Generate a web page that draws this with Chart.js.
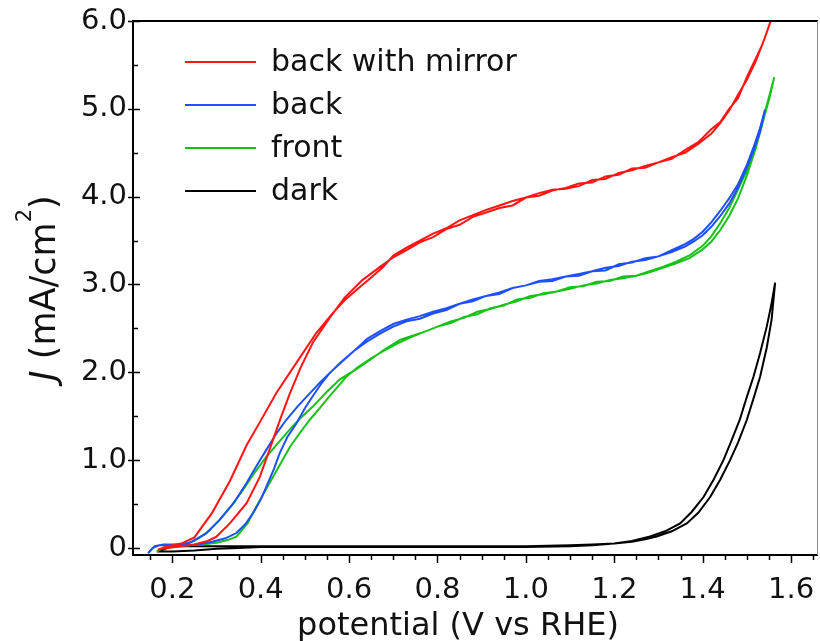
<!DOCTYPE html>
<html lang="en">
<head>
<meta charset="UTF-8">
<title>J vs potential</title>
<script src="https://cdn.jsdelivr.net/npm/chart.js"></script>
<style>
  html, body { margin: 0; padding: 0; background: #fff; }
  #chart { display: block; }
</style>
</head>
<body>
<canvas id="chart" width="820" height="641"></canvas>
<script>
// legend names and line colours
const seriesNames = ['back with mirror', 'back', 'front', 'dark'];
const seriesColors = ['#ff1414', '#1f50ff', '#16c216', '#000000'];

// back with mirror - anodic sweep then return sweep
const mirrorUpV = [0.167, 0.19, 0.22, 0.25, 0.28, 0.30, 0.33, 0.368, 0.398, 0.42, 0.443, 0.466, 0.49, 0.518, 0.556, 0.59, 0.63, 0.67, 0.70, 0.73, 0.76, 0.79, 0.82, 0.85, 0.88, 0.91, 0.94, 0.97, 1.00, 1.03, 1.06, 1.09, 1.12, 1.15, 1.18, 1.21, 1.24, 1.27, 1.30, 1.33, 1.36, 1.39, 1.42, 1.44, 1.46, 1.48, 1.50, 1.52, 1.535, 1.55, 1.556];
const mirrorUpJ = [-0.02, 0.00, 0.02, 0.04, 0.08, 0.13, 0.28, 0.51, 0.81, 1.12, 1.45, 1.76, 2.05, 2.34, 2.62, 2.85, 3.05, 3.20, 3.31, 3.39, 3.48, 3.54, 3.63, 3.68, 3.77, 3.82, 3.87, 3.90, 3.99, 4.01, 4.07, 4.10, 4.15, 4.16, 4.23, 4.25, 4.32, 4.33, 4.39, 4.43, 4.53, 4.62, 4.77, 4.85, 5.00, 5.12, 5.36, 5.57, 5.73, 5.94, 6.03];
const mirrorDownV = [1.556, 1.54, 1.52, 1.50, 1.48, 1.46, 1.44, 1.42, 1.39, 1.36, 1.33, 1.30, 1.27, 1.24, 1.21, 1.18, 1.15, 1.12, 1.09, 1.06, 1.03, 1.00, 0.97, 0.94, 0.91, 0.88, 0.85, 0.82, 0.79, 0.76, 0.73, 0.70, 0.677, 0.65, 0.617, 0.59, 0.564, 0.526, 0.481, 0.436, 0.40, 0.368, 0.33, 0.29, 0.25, 0.22, 0.19, 0.167];
const mirrorDownJ = [6.03, 5.80, 5.54, 5.33, 5.16, 4.98, 4.84, 4.72, 4.60, 4.50, 4.45, 4.39, 4.35, 4.30, 4.27, 4.20, 4.19, 4.12, 4.09, 4.08, 4.04, 3.99, 3.95, 3.90, 3.85, 3.79, 3.73, 3.64, 3.58, 3.50, 3.42, 3.33, 3.20, 3.08, 2.94, 2.82, 2.68, 2.45, 2.11, 1.77, 1.45, 1.17, 0.76, 0.40, 0.12, 0.05, 0.02, -0.02];

// back
const backUpV = [0.145, 0.155, 0.17, 0.20, 0.23, 0.26, 0.29, 0.32, 0.345, 0.365, 0.383, 0.40, 0.413, 0.43, 0.443, 0.46, 0.481, 0.50, 0.518, 0.537, 0.556, 0.58, 0.61, 0.64, 0.67, 0.70, 0.73, 0.76, 0.79, 0.82, 0.85, 0.88, 0.91, 0.94, 0.97, 1.00, 1.03, 1.06, 1.09, 1.12, 1.15, 1.18, 1.21, 1.24, 1.27, 1.30, 1.33, 1.36, 1.38, 1.40, 1.42, 1.44, 1.46, 1.48, 1.50, 1.515, 1.53, 1.541];
const backUpJ = [-0.06, 0.00, 0.03, 0.03, 0.03, 0.04, 0.07, 0.11, 0.17, 0.27, 0.40, 0.55, 0.70, 0.90, 1.08, 1.26, 1.42, 1.59, 1.73, 1.87, 1.99, 2.11, 2.24, 2.35, 2.44, 2.52, 2.58, 2.61, 2.67, 2.71, 2.78, 2.81, 2.87, 2.89, 2.96, 2.99, 3.03, 3.04, 3.09, 3.10, 3.15, 3.16, 3.23, 3.25, 3.30, 3.32, 3.39, 3.46, 3.52, 3.60, 3.71, 3.84, 3.98, 4.14, 4.36, 4.56, 4.78, 4.99];
const backDownV = [1.541, 1.53, 1.515, 1.50, 1.48, 1.46, 1.44, 1.42, 1.40, 1.38, 1.36, 1.33, 1.30, 1.27, 1.24, 1.21, 1.18, 1.15, 1.12, 1.09, 1.06, 1.03, 1.00, 0.97, 0.94, 0.91, 0.88, 0.85, 0.82, 0.79, 0.76, 0.73, 0.70, 0.67, 0.64, 0.617, 0.59, 0.564, 0.537, 0.511, 0.485, 0.458, 0.435, 0.413, 0.39, 0.368, 0.34, 0.307, 0.275, 0.24, 0.21, 0.18, 0.16, 0.145];
const backDownJ = [4.99, 4.74, 4.52, 4.33, 4.10, 3.92, 3.78, 3.66, 3.56, 3.49, 3.43, 3.37, 3.32, 3.28, 3.26, 3.21, 3.19, 3.15, 3.12, 3.09, 3.06, 3.04, 2.99, 2.96, 2.91, 2.87, 2.83, 2.78, 2.73, 2.69, 2.64, 2.60, 2.55, 2.47, 2.38, 2.27, 2.15, 2.03, 1.90, 1.76, 1.62, 1.46, 1.30, 1.12, 0.93, 0.74, 0.52, 0.32, 0.16, 0.06, 0.04, 0.04, 0.02, -0.06];

// front
const frontUpV = [0.165, 0.18, 0.21, 0.24, 0.27, 0.30, 0.325, 0.345, 0.37, 0.39, 0.41, 0.428, 0.447, 0.466, 0.49, 0.511, 0.535, 0.556, 0.575, 0.594, 0.62, 0.65, 0.68, 0.71, 0.74, 0.77, 0.80, 0.83, 0.86, 0.89, 0.92, 0.95, 0.98, 1.01, 1.04, 1.07, 1.10, 1.13, 1.16, 1.19, 1.22, 1.25, 1.28, 1.31, 1.34, 1.37, 1.40, 1.42, 1.44, 1.46, 1.48, 1.50, 1.52, 1.54, 1.552, 1.562];
const frontUpJ = [-0.04, 0.00, 0.02, 0.03, 0.04, 0.06, 0.09, 0.13, 0.28, 0.47, 0.65, 0.81, 0.98, 1.15, 1.32, 1.46, 1.60, 1.73, 1.84, 1.95, 2.06, 2.16, 2.25, 2.33, 2.40, 2.46, 2.52, 2.56, 2.63, 2.66, 2.73, 2.76, 2.83, 2.85, 2.90, 2.92, 2.97, 2.98, 3.03, 3.04, 3.09, 3.10, 3.15, 3.20, 3.26, 3.33, 3.44, 3.55, 3.70, 3.87, 4.08, 4.30, 4.60, 4.95, 5.17, 5.36];
const frontDownV = [1.562, 1.552, 1.54, 1.52, 1.50, 1.48, 1.46, 1.44, 1.42, 1.40, 1.37, 1.34, 1.31, 1.28, 1.25, 1.22, 1.19, 1.16, 1.13, 1.10, 1.07, 1.04, 1.01, 0.98, 0.95, 0.92, 0.89, 0.86, 0.83, 0.80, 0.77, 0.74, 0.715, 0.68, 0.647, 0.615, 0.579, 0.548, 0.518, 0.49, 0.466, 0.44, 0.413, 0.385, 0.36, 0.335, 0.307, 0.28, 0.25, 0.22, 0.19, 0.165];
const frontDownJ = [5.36, 5.14, 4.92, 4.55, 4.24, 3.98, 3.78, 3.62, 3.49, 3.40, 3.30, 3.24, 3.19, 3.14, 3.10, 3.07, 3.05, 3.01, 2.99, 2.95, 2.92, 2.89, 2.87, 2.81, 2.77, 2.72, 2.69, 2.62, 2.58, 2.52, 2.46, 2.41, 2.37, 2.26, 2.14, 2.03, 1.92, 1.77, 1.61, 1.48, 1.35, 1.20, 1.04, 0.85, 0.66, 0.49, 0.32, 0.18, 0.08, 0.04, 0.03, -0.04];

// dark
const darkUpV = [0.165, 0.20, 0.25, 0.30, 0.35, 0.40, 0.50, 0.60, 0.70, 0.80, 0.90, 1.00, 1.10, 1.15, 1.20, 1.24, 1.27, 1.296, 1.33, 1.364, 1.39, 1.417, 1.44, 1.462, 1.48, 1.50, 1.515, 1.53, 1.545, 1.556, 1.564];
const darkUpJ = [-0.04, -0.04, -0.03, -0.01, 0.00, 0.01, 0.01, 0.01, 0.01, 0.01, 0.01, 0.01, 0.02, 0.03, 0.05, 0.07, 0.10, 0.13, 0.19, 0.28, 0.40, 0.58, 0.78, 1.00, 1.20, 1.46, 1.70, 1.95, 2.28, 2.60, 3.02];
const darkDownV = [1.564, 1.555, 1.545, 1.53, 1.515, 1.50, 1.484, 1.465, 1.447, 1.425, 1.402, 1.375, 1.349, 1.315, 1.281, 1.24, 1.20, 1.15, 1.10, 1.00, 0.90, 0.80, 0.70, 0.60, 0.50, 0.40, 0.30, 0.25, 0.20, 0.165];
const darkDownJ = [3.02, 2.76, 2.52, 2.22, 1.95, 1.72, 1.46, 1.22, 1.00, 0.78, 0.58, 0.41, 0.28, 0.19, 0.13, 0.08, 0.05, 0.04, 0.03, 0.02, 0.02, 0.02, 0.02, 0.02, 0.02, 0.02, 0.02, 0.02, 0.02, -0.04];

// axis labels
const xTickLabels = [0.2, 0.4, 0.6, 0.8, 1.0, 1.2, 1.4, 1.6];
const yTickLabels = [0, 1, 2, 3, 4, 5, 6];

const FONT = 'DejaVu Sans';

// join the up and down sweep into one closed trace
function sweep(upV, upJ, downV, downJ) {
    const pts = [];
    upV.forEach((v, i) => pts.push({ x: v, y: upJ[i] }));
    downV.forEach((v, i) => pts.push({ x: v, y: downJ[i] }));
    return pts;
}

const traces = [
    sweep(mirrorUpV, mirrorUpJ, mirrorDownV, mirrorDownJ),
    sweep(backUpV, backUpJ, backDownV, backDownJ),
    sweep(frontUpV, frontUpJ, frontDownV, frontDownJ),
    sweep(darkUpV, darkUpJ, darkDownV, darkDownJ)
];

// frame, minor ticks, axis titles and legend drawn on top of the chart
const decorations = {
    id: 'decorations',
    afterDraw(chart) {
        const ctx = chart.ctx;
        const area = chart.chartArea;
        const xs = chart.scales.x;
        const ys = chart.scales.y;
        ctx.save();

        // frame
        ctx.strokeStyle = '#000';
        ctx.lineWidth = 2;
        ctx.beginPath();
        ctx.moveTo(area.right, area.top);
        ctx.lineTo(area.left, area.top);
        ctx.lineTo(area.left, area.bottom);
        ctx.lineTo(area.right, area.bottom);
        ctx.stroke();
        ctx.strokeStyle = '#8c8c8c';
        ctx.lineWidth = 1;
        ctx.beginPath();
        ctx.moveTo(area.right - 0.5, area.top);
        ctx.lineTo(area.right - 0.5, area.bottom);
        ctx.stroke();

        // x ticks every 0.05, longer on the labelled ones
        ctx.strokeStyle = '#000';
        ctx.lineWidth = 1.5;
        for (let k = 3; k <= 33; k++) {
            const v = k * 0.05;
            const px = Math.round(xs.getPixelForValue(v)) + 0.5;
            const major = k % 4 === 0;
            ctx.beginPath();
            ctx.moveTo(px, area.bottom);
            ctx.lineTo(px, area.bottom + (major ? 8 : 5));
            ctx.stroke();
        }
        // y ticks every 0.5
        for (let k = 0; k <= 12; k++) {
            const v = k * 0.5;
            const py = Math.round(ys.getPixelForValue(v)) + 0.5;
            ctx.beginPath();
            if (k % 2 === 0) {
                ctx.moveTo(area.left - 5, py);
                ctx.lineTo(area.left + 7, py);
            } else {
                ctx.moveTo(area.left, py);
                ctx.lineTo(area.left + 5, py);
            }
            ctx.stroke();
        }

        // x title
        ctx.fillStyle = '#111';
        ctx.font = '32px "' + FONT + '"';
        ctx.textAlign = 'center';
        ctx.textBaseline = 'alphabetic';
        ctx.fillText('potential (V vs RHE)', 458, 635);

        // y title: italic J, superscript 2
        const big = '35px "' + FONT + '"';
        const bigIt = 'italic 35px "' + FONT + '"';
        const small = '21px "' + FONT + '"';
        const parts = [
            { t: 'J', f: bigIt, dy: 0 },
            { t: ' (mA/cm', f: big, dy: 0 },
            { t: '2', f: small, dy: -24 },
            { t: ')', f: big, dy: 0 }
        ];
        let total = 0;
        parts.forEach(p => { ctx.font = p.f; p.w = ctx.measureText(p.t).width; total += p.w; });
        ctx.translate(55, 288);
        ctx.rotate(-Math.PI / 2);
        ctx.textAlign = 'left';
        let cx = -total / 2;
        parts.forEach(p => {
            ctx.font = p.f;
            ctx.fillText(p.t, cx, p.dy);
            cx += p.w;
        });
        ctx.setTransform(1, 0, 0, 1, 0, 0);

        // legend
        ctx.font = '30px "' + FONT + '"';
        ctx.textBaseline = 'middle';
        ctx.lineWidth = 2;
        chart.data.datasets.forEach((ds, i) => {
            const y = 62 + i * 43;
            ctx.strokeStyle = ds.borderColor;
            ctx.beginPath();
            ctx.moveTo(185, y);
            ctx.lineTo(256, y);
            ctx.stroke();
            ctx.fillStyle = '#111';
            ctx.fillText(ds.label, 271, y + 1);
        });
        ctx.restore();
    }
};

const ctx = document.getElementById('chart').getContext('2d');
const chart = new Chart(ctx, {
    type: 'scatter',
    data: {
        datasets: traces.map((pts, i) => ({
            label: seriesNames[i],
            data: pts,
            showLine: true,
            borderColor: seriesColors[i],
            backgroundColor: seriesColors[i],
            borderWidth: 2,
            pointRadius: 0,
            tension: 0,
            fill: false
        }))
    },
    options: {
        responsive: false,
        animation: false,
        layout: { padding: { top: 21, right: 2, left: 0, bottom: 0 } },
        plugins: {
            legend: { display: false },
            tooltip: { enabled: false }
        },
        scales: {
            x: {
                type: 'linear',
                min: 0.111,
                max: 1.661,
                grid: { display: false, drawTicks: false },
                border: { display: false },
                afterBuildTicks: s => { s.ticks = xTickLabels.map(v => ({ value: v })); },
                afterFit: s => { s.height = 86; s.paddingLeft = 0; s.paddingRight = 0; },
                ticks: {
                    autoSkip: false,
                    maxRotation: 0,
                    padding: 18,
                    color: '#111',
                    font: { family: FONT, size: 29 },
                    callback: v => Number(v).toFixed(1)
                }
            },
            y: {
                type: 'linear',
                min: -0.08,
                max: 6.0,
                grid: { display: false, drawTicks: false },
                border: { display: false },
                afterBuildTicks: s => { s.ticks = yTickLabels.map(v => ({ value: v })); },
                afterFit: s => { s.width = 133; s.paddingTop = 0; s.paddingBottom = 0; },
                ticks: {
                    autoSkip: false,
                    padding: 6,
                    color: '#111',
                    font: { family: FONT, size: 29 },
                    callback: v => (v === 0 ? '0' : Number(v).toFixed(1))
                }
            }
        }
    },
    plugins: [decorations]
});
</script>
</body>
</html>
